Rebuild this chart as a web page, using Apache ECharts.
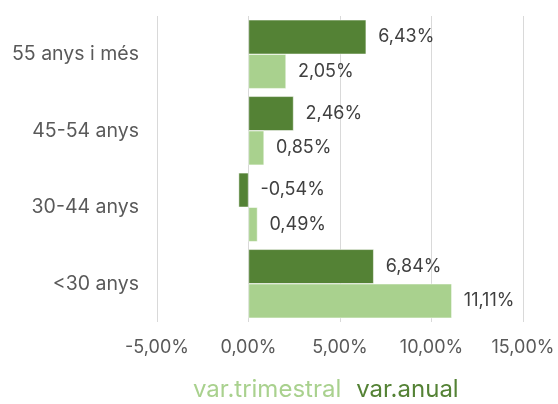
<!DOCTYPE html>
<html>
<head>
<meta charset="utf-8">
<script src="https://cdn.jsdelivr.net/npm/echarts@6/dist/echarts.min.js"></script>
<style>
    html, body {margin: 0; padding: 0; background: #fff;}
    #chart {width: 558px; height: 404px;}
</style>
</head>
<body>
<div id="chart"></div>
<script>
// categories from bottom to top
const categories = ['<30 anys', '30-44 anys', '45-54 anys', '55 anys i més'];
const varTrimestral = [11.11, 0.49, 0.85, 2.05];
const varAnual = [6.84, -0.54, 2.46, 6.43];
const colors = {trim: '#A9D18E', anual: '#548235'};

const fmt = v => v.toFixed(2).replace('.', ',') + '%';
const font = 'Inter, sans-serif';

const chart = echarts.init(document.getElementById('chart'));
chart.setOption({
    animation: false,
    textStyle: {fontFamily: font},
    grid: {left: 157, right: 35, top: 16, bottom: 82, containLabel: false},
    legend: {
        bottom: -3,
        left: 182,
        itemWidth: 0,
        itemHeight: 0,
        itemGap: 9,
        icon: 'rect',
        data: [
            {name: 'var.trimestral', textStyle: {color: colors.trim}},
            {name: 'var.anual', textStyle: {color: colors.anual}}
        ],
        textStyle: {fontSize: 24, fontFamily: font}
    },
    xAxis: {
        type: 'value',
        min: -5,
        max: 15,
        interval: 5,
        axisLine: {show: false},
        axisTick: {show: false},
        splitLine: {lineStyle: {color: '#d9d9d9', width: 1}},
        axisLabel: {formatter: fmt, color: '#595959', fontSize: 18, margin: 17}
    },
    yAxis: {
        type: 'category',
        data: categories,
        axisLine: {show: false},
        axisTick: {show: false},
        axisLabel: {color: '#595959', fontSize: 19.5, margin: 18}
    },
    series: [
        {
            name: 'var.anual',
            type: 'bar',
            data: varAnual,
            barGap: '0%',
            barCategoryGap: '10%',
            itemStyle: {color: colors.anual, borderColor: '#fff', borderWidth: 0.5},
            label: {show: true, position: 'right', distance: 12, formatter: p => fmt(p.value), color: '#404040', fontSize: 18}
        },
        {
            name: 'var.trimestral',
            type: 'bar',
            data: varTrimestral,
            barGap: '0%',
            barCategoryGap: '10%',
            itemStyle: {color: colors.trim, borderColor: '#fff', borderWidth: 0.5},
            label: {show: true, position: 'right', distance: 12, formatter: p => fmt(p.value), color: '#404040', fontSize: 18}
        }
    ]
});
</script>
</body>
</html>
